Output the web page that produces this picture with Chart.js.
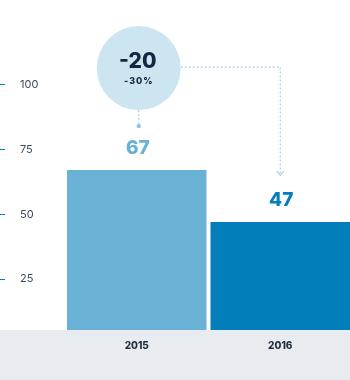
<!DOCTYPE html>
<html>
<head>
<meta charset="utf-8">
<script src="https://cdn.jsdelivr.net/npm/chart.js@4"></script>
<style>
  html, body { margin: 0; padding: 0; background: #fff; overflow: hidden; }
  #wrap { width: 352px; height: 380px; position: relative; }
</style>
</head>
<body>
<div id="wrap"><canvas id="chart"></canvas></div>
<script>
const years = ['2015', '2016'];
const values = [67, 47];
const barColors = ['#69b2d6', '#027fba'];
const yTicks = [25, 50, 75, 100];

const FONT = 'Inter, "Open Sans", sans-serif';

// gray band under the chart, y tick marks, value labels and the change bubble
const decorPlugin = {
    id: 'decor',
    beforeDraw(chart) {
        const { ctx, chartArea } = chart;
        ctx.save();
        ctx.fillStyle = '#e8ebef';
        ctx.fillRect(0, chartArea.bottom, chart.width, chart.height - chartArea.bottom);
        ctx.restore();
    },
    afterDraw(chart) {
        const { ctx } = chart;
        const yScale = chart.scales.y;
        const meta = chart.getDatasetMeta(0);

        ctx.save();
        // tick marks on the far left
        ctx.strokeStyle = '#027fba';
        ctx.lineWidth = 1;
        yTicks.forEach(t => {
            const y = Math.round(yScale.getPixelForValue(t)) + 0.5;
            ctx.beginPath();
            ctx.moveTo(0, y);
            ctx.lineTo(5, y);
            ctx.stroke();
        });

        // value labels above bars
        ctx.textAlign = 'center';
        ctx.textBaseline = 'middle';
        ctx.font = '800 19px ' + FONT;
        meta.data.forEach((bar, i) => {
            ctx.fillStyle = barColors[i];
            ctx.fillText(String(values[i]), bar.x + 1, bar.y - 22);
        });

        // change annotation
        const b0 = meta.data[0];
        const b1 = meta.data[1];
        const diff = values[1] - values[0];
        const pct = Math.round(diff / values[0] * 100);
        const cx = b0.x + 2;
        const cy = b0.y - 102;
        const r = 42;

        ctx.strokeStyle = '#a6cfe5';
        ctx.lineWidth = 1.2;
        ctx.setLineDash([2, 2]);
        ctx.beginPath();
        ctx.moveTo(cx + r, cy - 1);
        ctx.lineTo(b1.x, cy - 1);
        ctx.lineTo(b1.x, b1.y - 49);
        ctx.stroke();
        ctx.beginPath();
        ctx.moveTo(cx, cy + r);
        ctx.lineTo(cx, cy + r + 14);
        ctx.stroke();
        ctx.setLineDash([]);

        // arrow head
        ctx.beginPath();
        ctx.moveTo(b1.x - 3.5, b1.y - 51);
        ctx.lineTo(b1.x, b1.y - 47);
        ctx.lineTo(b1.x + 3.5, b1.y - 51);
        ctx.stroke();

        // dot under the bubble
        ctx.fillStyle = '#8fc3df';
        ctx.beginPath();
        ctx.arc(cx, cy + r + 16, 2.2, 0, Math.PI * 2);
        ctx.fill();

        // bubble
        ctx.fillStyle = '#cde5f1';
        ctx.beginPath();
        ctx.arc(cx, cy, r, 0, Math.PI * 2);
        ctx.fill();

        ctx.fillStyle = '#0e2a40';
        ctx.font = '800 21px ' + FONT;
        ctx.fillText(String(diff), cx - 1, cy - 6);
        ctx.font = '800 9px ' + FONT;
        if ('letterSpacing' in ctx) ctx.letterSpacing = '1px';
        ctx.fillText(pct + '%', cx, cy + 13);
        ctx.restore();
    }
};

const ctx = document.getElementById('chart').getContext('2d');

new Chart(ctx, {
    type: 'bar',
    data: {
        labels: years,
        datasets: [{
            data: values,
            backgroundColor: barColors,
            borderWidth: 0,
            barPercentage: 1,
            categoryPercentage: 0.972
        }]
    },
    options: {
        responsive: true,
        maintainAspectRatio: false,
        animation: false,
        layout: {
            padding: { top: 6, left: 20, right: 0, bottom: 0 }
        },
        scales: {
            x: {
                grid: { display: false, drawTicks: false },
                border: { display: false },
                ticks: {
                    padding: 10,
                    color: '#1d2d3d',
                    font: { family: FONT, size: 10, weight: '800' }
                },
                afterFit: s => { s.height = 50; }
            },
            y: {
                min: 5.4,
                max: 130,
                grid: { display: false, drawTicks: false },
                border: { display: false },
                afterBuildTicks: s => { s.ticks = yTicks.map(v => ({ value: v })); },
                afterFit: s => { s.width = 45; },
                ticks: {
                    crossAlign: 'far',
                    padding: 0,
                    color: '#3a4a5a',
                    font: { family: FONT, size: 11 }
                }
            }
        },
        plugins: {
            legend: { display: false },
            tooltip: { enabled: false }
        }
    },
    plugins: [decorPlugin]
});
</script>
</body>
</html>
